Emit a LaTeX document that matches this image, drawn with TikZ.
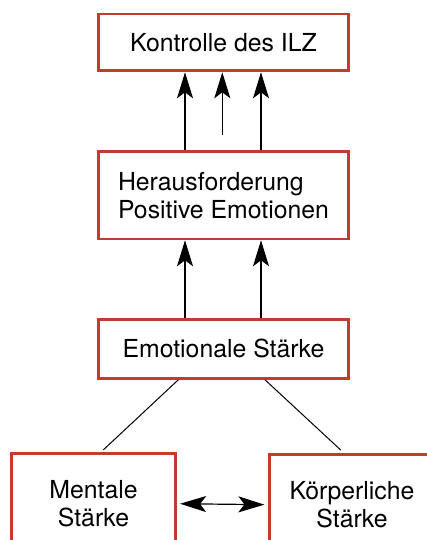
\documentclass[tikz,border=0pt]{standalone}
\usepackage{fontspec}
\setmainfont{TeX Gyre Heros}
\usetikzlibrary{arrows.meta,positioning}
\definecolor{boxred}{RGB}{198,58,44}

\begin{document}
\begin{tikzpicture}[
  node distance=39pt,
  box/.style={rectangle, draw=boxred, line width=1.4pt, minimum width=125.2pt, align=center, font=\fontsize{12.4}{14}\selectfont},
  arr/.style={-{Stealth[length=13pt, width=8pt, inset=3pt]}, line width=0.65pt},
  dbl/.style={{Stealth[length=13pt, width=8pt, inset=3pt]}-{Stealth[length=13pt, width=8pt, inset=3pt]}, line width=0.6pt},
  link/.style={line width=0.5pt}]
\useasboundingbox (0,0) rectangle (213.5pt,-270pt);
\clip (0,0) rectangle (213.5pt,-270pt);
\node[box, minimum height=28.4pt] (ilz) at (111.75pt,-21.25pt) {Kontrolle des ILZ};
\node[box, minimum height=43.6pt, align=left, below=of ilz] (her) {Herausforderung\\Positive Emotionen};
\node[box, minimum height=29.6pt, below=38.75pt of her] (emo) {Emotionale Stärke};
\node[box, minimum width=82.2pt, minimum height=50pt, below=36.25pt of emo, xshift=-65pt] (ment) {Mentale\\Stärke};
\node[box, minimum width=82.2pt, minimum height=50pt, below=36.75pt of emo, xshift=64.25pt] (koerp) {Körperliche\\Stärke};
% arrows up
\foreach \dx in {-19.25pt,18.75pt} \draw[arr] ([xshift=\dx]her.north) -- ([xshift=\dx]ilz.south);
\coordinate (mid) at ([xshift=-0.6pt,yshift=-31.5pt]ilz.south);
\draw[arr] (mid) -- (mid |- ilz.south);
\foreach \dx in {-19.25pt,18.75pt} \draw[arr] ([xshift=\dx]emo.north) -- ([xshift=\dx]her.south);
% links
\draw[link] ([xshift=-22.6pt]emo.south) -- ([xshift=4.9pt,yshift=1.2pt]ment.north);
\draw[link] ([xshift=20.75pt]emo.south) -- ([xshift=-5.6pt,yshift=1.6pt]koerp.north);
\draw[dbl, shorten <=1.5pt, shorten >=2pt] (ment.east) -- (koerp.west);
\end{tikzpicture}
\end{document}
